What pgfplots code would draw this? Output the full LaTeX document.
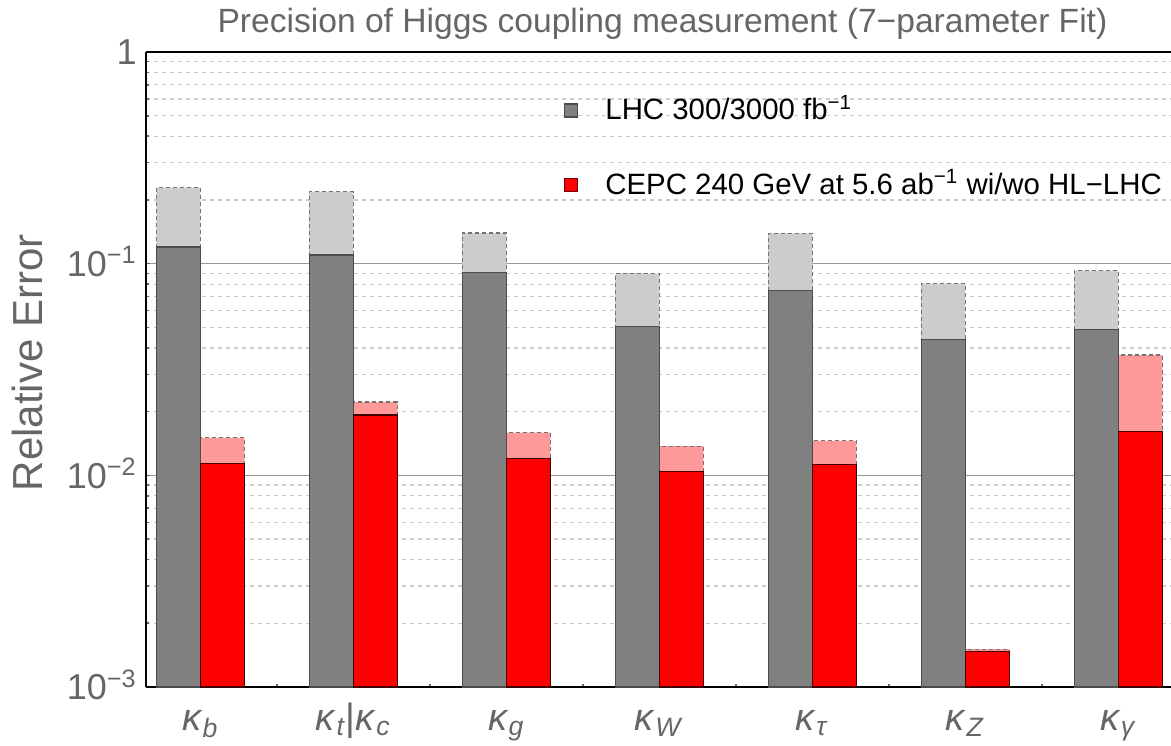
\documentclass[border=0pt]{standalone}
\usepackage{fontspec}
\setmainfont{Liberation Sans}
\usepackage{pgfplots}
\pgfplotsset{compat=1.18}

\definecolor{labgray}{HTML}{666666}
\definecolor{lhcdark}{HTML}{808080}
\definecolor{lhclight}{HTML}{CCCCCC}
\definecolor{cepcdark}{HTML}{FF0000}
\definecolor{cepclight}{HTML}{FF9999}

\begin{document}
\begin{tikzpicture}
\useasboundingbox (-73pt,-29pt) rectangle (512.5pt,343.5pt);
\begin{axis}[
	at={(0,0)}, anchor=south west,
	scale only axis, width=512.5pt, height=317.5pt,
	ymode=log, ymin=1e-3, ymax=1, log origin=infty,
	xmin=-0.355, xmax=6.345,
	axis x line*=box, axis y line*=left,
	axis line style={-, black, line width=1.3pt},
	xtick pos=bottom, ytick pos=left,
	tick align=inside,
	major tick length=2pt, minor tick length=1.5pt,
	tick style={black!60, line width=0.8pt},
	major x tick style={draw=none},
	xtick={0,1,2,3,4,5,6},
	xticklabels={{\textit{κ}\textsubscript{\textit{b}}},
		{\textit{κ}\textsubscript{\textit{t}}|\textit{κ}\textsubscript{\textit{c}}},
		{\textit{κ}\textsubscript{\textit{g}}},
		{\textit{κ}\textsubscript{\textit{W}}},
		{\textit{κ}\textsubscript{\textit{τ}}},
		{\textit{κ}\textsubscript{\textit{Z}}},
		{\textit{κ}\textsubscript{\textit{γ}}}},
	minor xtick={-0.144,0.144,0.5,0.856,1.144,1.5,1.856,2.144,2.5,2.856,3.144,3.5,
		3.856,4.144,4.5,4.856,5.144,5.5,5.856,6.144},
	ytick={0.001,0.01,0.1,1},
	yticklabels={10\textsuperscript{−3},10\textsuperscript{−2},10\textsuperscript{−1},1},
	ymajorgrids, yminorgrids,
	major grid style={black!40, line width=0.6pt},
	minor grid style={black!20, line width=0.6pt, dash pattern=on 2pt off 2pt},
	xticklabel style={font=\fontsize{19}{22}\selectfont, text=labgray, anchor=base, inner sep=0pt, yshift=-21.5pt},
	yticklabel style={font=\fontsize{18}{21}\selectfont, text=labgray, anchor=base east, inner sep=0pt, xshift=-4.5pt, yshift=-6.4pt},
	ylabel={Relative Error},
	ylabel style={at={(axis description cs:-0.1005,0.5106)}, anchor=base, font=\fontsize{21}{25}\selectfont, text=labgray},
	title={Precision of Higgs coupling measurement (7−parameter Fit)},
	title style={at={(0.5,1)}, anchor=base, yshift=4pt, xshift=2pt, font=\fontsize{16.8}{20}\selectfont, text=labgray},
	legend style={at={(0.408,0.931)}, anchor=north west, draw=none, fill=none,
		inner sep=0pt, outer sep=0pt, row sep=21.3pt, column sep=13.5pt,
		font=\fontsize{14.7}{18}\selectfont,
		nodes={inner sep=0pt, text height=12pt, text depth=4pt},
		cells={anchor=base west}},
]
% HL-LHC / CEPC+HL-LHC (light, dashed outline)
\addplot[ybar, bar width=0.288, bar shift=-0.144, fill=lhclight, draw=black!55,
	line width=0.6pt, dash pattern=on 2pt off 1.5pt, forget plot]
	coordinates {(0,0.229) (1,0.219) (2,0.1395) (3,0.0896) (4,0.139) (5,0.0806) (6,0.0926)};
\addplot[ybar, bar width=0.288, bar shift=0.144, fill=cepclight, draw=black!55,
	line width=0.6pt, dash pattern=on 2pt off 1.5pt, forget plot]
	coordinates {(0,0.01504) (1,0.0222) (2,0.0159) (3,0.01374) (4,0.01456) (5,0.00151) (6,0.0370)};
% LHC 300 / CEPC alone (dark, solid outline)
\addplot[ybar, bar width=0.288, bar shift=-0.144, fill=lhcdark, draw=black!70, line width=0.6pt,
	legend image code/.code={\draw[fill=lhcdark, draw=black!70, line width=0.6pt] (0pt,1.4pt) rectangle (6.5pt,7.9pt);}]
	coordinates {(0,0.1198) (1,0.110) (2,0.0906) (3,0.0507) (4,0.0747) (5,0.0438) (6,0.0489)};
\addlegendentry{LHC 300/3000 fb\textsuperscript{−1}}
\addplot[ybar, bar width=0.288, bar shift=0.144, fill=cepcdark, draw=black!75!red, line width=0.6pt,
	legend image code/.code={\draw[fill=cepcdark, draw=black!60!red, line width=0.6pt] (0pt,1.4pt) rectangle (6.5pt,7.9pt);}]
	coordinates {(0,0.01137) (1,0.0193) (2,0.01206) (3,0.01042) (4,0.01122) (5,0.001476) (6,0.01606)};
\addlegendentry{CEPC 240 GeV at 5.6 ab\textsuperscript{−1} wi/wo HL−LHC}
\end{axis}
\end{tikzpicture}
\end{document}
